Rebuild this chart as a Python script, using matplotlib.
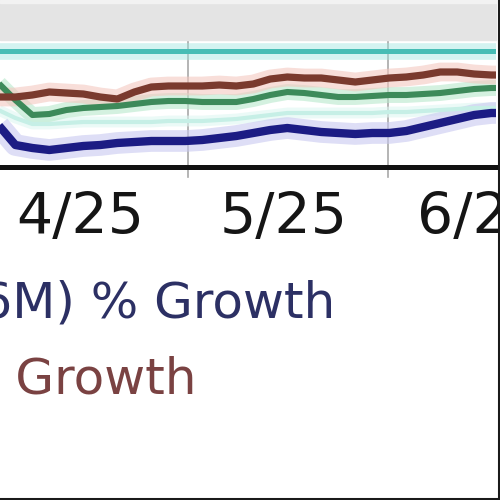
import matplotlib
matplotlib.use('Agg')
import matplotlib.pyplot as plt
from matplotlib.patches import Rectangle
from matplotlib.lines import Line2D

# days after 4/25
days = [-12, -9.5, -7, -4.5, -2, 0.5, 3, 5.5, 8, 10.5, 13, 15.5, 18, 20.5, 23, 25.5,
        28, 30.5, 33, 35.5, 38, 40.5, 43, 45.5, 48, 50.5, 53, 55.5, 58, 60.5, 62]

brown_growth = [5.0, 5.0, 5.2, 5.5, 5.4, 5.3, 5.0, 4.8, 5.5, 6.0, 6.1, 6.1, 6.1, 6.2, 6.1, 6.3,
                6.8, 7.0, 6.9, 6.9, 6.7, 6.5, 6.7, 6.9, 7.0, 7.2, 7.5, 7.5, 7.3, 7.2, 7.2]
green_growth = [6.4, 4.7, 3.2, 3.3, 3.7, 3.9, 4.0, 4.1, 4.3, 4.5, 4.6, 4.6, 4.5, 4.5, 4.5, 4.8,
                5.2, 5.5, 5.4, 5.2, 5.0, 5.0, 5.1, 5.2, 5.2, 5.3, 5.4, 5.6, 5.8, 5.9, 5.9]
mint_growth = [3.7, 2.9, 2.3, 2.3, 2.4, 2.5, 2.5, 2.5, 2.5, 2.5, 2.6, 2.6, 2.6, 2.7, 2.8, 3.0,
               3.2, 3.4, 3.4, 3.4, 3.4, 3.4, 3.4, 3.5, 3.5, 3.6, 3.7, 3.8, 3.9, 3.9, 3.9]
blue_growth = [2.2, 0.2, -0.1, -0.3, -0.1, 0.1, 0.2, 0.4, 0.5, 0.6, 0.6, 0.6, 0.7, 0.9, 1.1, 1.4,
               1.7, 1.9, 1.7, 1.5, 1.4, 1.3, 1.4, 1.4, 1.6, 2.0, 2.4, 2.8, 3.2, 3.4, 3.4]
cyan_level = 9.6

tick_days = [0, 30, 59]
tick_labels = ['4/25', '5/25', '6/25']
grid_days = [15.9, 45.3]

fig = plt.figure(figsize=(5, 5), dpi=100)
fig.patch.set_facecolor('white')

# grey band on top, light strip and black frame edges
fig.patches.append(Rectangle((0, 1 - 40 / 500), 496 / 500, 40 / 500,
                             transform=fig.transFigure, color='#e4e4e4', zorder=0))
fig.patches.append(Rectangle((0, 1 - 3 / 500), 496 / 500, 3 / 500,
                             transform=fig.transFigure, color='#f2f2f2', zorder=0))
fig.add_artist(Line2D([498.5 / 500] * 2, [0, 1], color='#1a1a1a', lw=2.2,
                      transform=fig.transFigure))
fig.add_artist(Line2D([0, 1], [1.5 / 500] * 2, color='#1a1a1a', lw=2.2,
                      transform=fig.transFigure))

ax = fig.add_axes([0, 1 - 167 / 500, 496 / 500, 127 / 500])
ax.set_facecolor('none')
ax.set_xlim(-11.76, 61.2)
ax.set_ylim(-2.0, 10.7)

for s in ['top', 'left', 'right']:
    ax.spines[s].set_visible(False)
ax.spines['bottom'].set_color('#111111')
ax.spines['bottom'].set_linewidth(3.6)
ax.set_yticks([])
ax.set_xticks(tick_days)
ax.set_xticklabels(tick_labels, fontsize=41, color='#151515')
ax.tick_params(axis='x', length=0, pad=17)

for d in grid_days:
    ax.axvline(d, ymin=-0.08, ymax=1.03, color='#a8a8a8', lw=1.2, clip_on=False, zorder=1)

# soft halo under each line, then the line itself
ax.axhline(cyan_level, color='#9fe6e0', lw=12, alpha=0.45, zorder=2)
ax.axhline(cyan_level, color='#46bdb5', lw=3.6, zorder=3)

series = [
    (mint_growth, '#c6efe6', 3.0),
    (green_growth, '#3d8a5a', 4.4),
    (brown_growth, '#7a3a2e', 5.2),
    (blue_growth, '#1c1c84', 6.0),
]
halo = {'#c6efe6': '#dff7f2', '#3d8a5a': '#b8e8cc', '#7a3a2e': '#f4c8c0', '#1c1c84': '#c8c8f0'}
for vals, col, lw in series:
    ax.plot(days, vals, color=halo[col], lw=lw * 2.6, alpha=0.6, zorder=2,
            solid_capstyle='butt', solid_joinstyle='round')
for vals, col, lw in series:
    ax.plot(days, vals, color=col, lw=lw, zorder=3, solid_capstyle='butt',
            solid_joinstyle='round')

# legend entries (cut off at the left edge)
fig.text(335 / 500, 1 - 318 / 500, '(6M) % Growth', ha='right', va='baseline',
         fontsize=36, color='#2c3064')
fig.text(196 / 500, 1 - 393 / 500, ') Growth', ha='right', va='baseline',
         fontsize=36, color='#7a4242')

fig.savefig('out.png', dpi=100)
plt.close(fig)
